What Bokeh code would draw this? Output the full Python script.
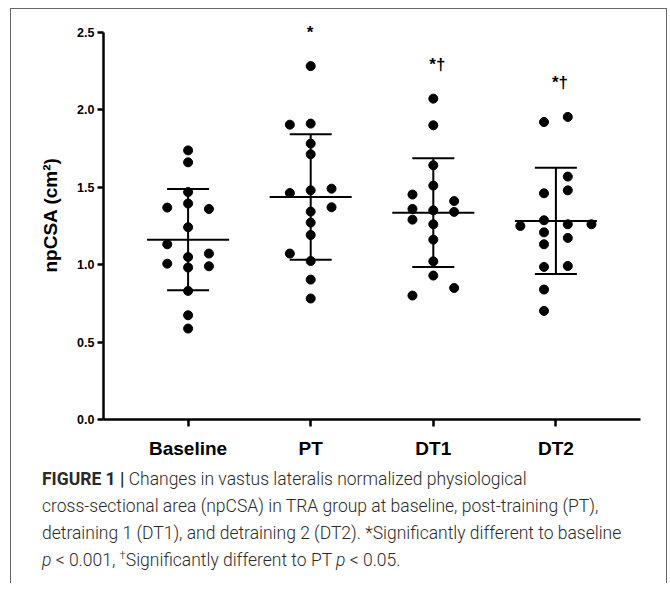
from bokeh.plotting import figure
from bokeh.models import (Range1d, FixedTicker, ColumnDataSource, Div, Whisker,
                          TeeHead, NumeralTickFormatter)
from bokeh.layouts import column
from bokeh.embed import file_html
from bokeh.resources import INLINE
from bokeh.core.properties import value

# ---------------- data ----------------
categories = ["Baseline", "PT", "DT1", "DT2"]

baseline_vals = [1.737, 1.660, 1.468, 1.394, 1.241, 1.049, 0.981, 0.830, 0.673, 0.587,
                 1.368, 1.131, 1.006, 1.359, 1.071, 0.989]
baseline_dx = [0.0] * 10 + [-0.17] * 3 + [0.17] * 3

pt_vals = [2.281, 1.910, 1.781, 1.712, 1.479, 1.342, 1.271, 1.191, 1.023, 0.903, 0.781,
           1.903, 1.462, 1.071, 1.490, 1.370]
pt_dx = [0.0] * 11 + [-0.17] * 3 + [0.17] * 2

dt1_vals = [2.071, 1.899, 1.641, 1.510, 1.350, 1.260, 1.161, 1.021, 0.929,
            1.452, 1.359, 1.290, 0.800, 1.410, 1.340, 0.849]
dt1_dx = [0.0] * 9 + [-0.17] * 4 + [0.17] * 3

dt2_vals = [1.920, 1.460, 1.286, 1.208, 1.131, 0.985, 0.839, 0.701,
            1.953, 1.568, 1.479, 1.260, 1.172, 0.991, 1.249, 1.260]
dt2_dx = [-0.097] * 8 + [0.097] * 6 + [-0.29] + [0.29]

means = [1.161, 1.436, 1.335, 1.282]
sds = [0.327, 0.405, 0.351, 0.343]

sig_labels = ["", "*", "*\u2020", "*\u2020"]

y_ticks = [0.0, 0.5, 1.0, 1.5, 2.0, 2.5]

# ---------------- build sources ----------------
groups = [baseline_vals, pt_vals, dt1_vals, dt2_vals]
offsets = [baseline_dx, pt_dx, dt1_dx, dt2_dx]
px, py = [], []
for i, (vals, dxs) in enumerate(zip(groups, offsets)):
    for v, d in zip(vals, dxs):
        px.append(i + d)
        py.append(v)
pts = ColumnDataSource(dict(x=px, y=py))

idx = list(range(len(categories)))
stats = ColumnDataSource(dict(
    x=idx,
    mean=means,
    upper=[m + s for m, s in zip(means, sds)],
    lower=[m - s for m, s in zip(means, sds)],
))

ann_x = [i for i, s in enumerate(sig_labels) if s]
ann_y = [max(groups[i]) for i in ann_x]
ann_t = [sig_labels[i] for i in ann_x]
ann = ColumnDataSource(dict(x=ann_x, y=ann_y, t=ann_t))

# ---------------- figure ----------------
FONT = "Liberation Sans"
p = figure(output_backend="svg", toolbar_location=None,
           frame_width=537, frame_height=409,
           min_border_left=92, min_border_right=17,
           min_border_top=1, min_border_bottom=41,
           x_range=Range1d(-0.69, 3.69), y_range=Range1d(0, 2.64))
p.outline_line_color = None
p.xgrid.visible = False
p.ygrid.visible = False
p.background_fill_color = "white"
p.border_fill_color = "white"

p.scatter("x", "y", source=pts, size=9, color="black")

p.add_layout(Whisker(source=stats, base="x", upper="upper", lower="lower",
                     line_width=2, line_color="black",
                     upper_head=TeeHead(size=42, line_width=2, line_color="black"),
                     lower_head=TeeHead(size=42, line_width=2, line_color="black")))
p.scatter("x", "mean", source=stats, marker="dash", size=82,
          line_width=2, line_color="black")

p.text("x", "y", text="t", source=ann, x_offset=-4, y_offset=-34,
       text_align="left", text_baseline="middle",
       text_font=value(FONT), text_font_style="bold",
       text_font_size="17px", text_color="black")

# axes
p.xaxis.ticker = FixedTicker(ticks=idx)
p.xaxis.major_label_overrides = {i: c for i, c in enumerate(categories)}
p.yaxis.ticker = FixedTicker(ticks=y_ticks)
p.yaxis.bounds = (y_ticks[0], y_ticks[-1])
p.yaxis.formatter = NumeralTickFormatter(format="0.0")
for ax in (p.xaxis, p.yaxis):
    ax.axis_line_width = 2.5
    ax.axis_line_color = "black"
    ax.major_tick_line_width = 2.5
    ax.major_tick_line_color = "black"
    ax.major_tick_in = 0
    ax.minor_tick_line_color = None
    ax.major_label_text_font = FONT
    ax.major_label_text_font_style = "bold"
    ax.major_label_text_color = "black"
p.xaxis.major_tick_out = 7
p.xaxis.major_label_text_font_size = "19px"
p.xaxis.major_label_standoff = 11
p.yaxis.major_tick_out = 6
p.yaxis.major_label_text_font_size = "12.5px"
p.yaxis.major_label_standoff = 3
p.yaxis.axis_label = "npCSA (cm\u00b2)"
p.yaxis.axis_label_text_font = FONT
p.yaxis.axis_label_text_font_style = "bold"
p.yaxis.axis_label_text_font_size = "19px"
p.yaxis.axis_label_text_color = "black"
p.yaxis.axis_label_standoff = 13

caption_html = (
    "<b style='font-weight:700'>FIGURE 1 |</b> Changes in vastus lateralis normalized physiological<br>"
    "cross-sectional area (npCSA) in TRA group at baseline, post-training (PT),<br>"
    "detraining 1 (DT1), and detraining 2 (DT2). *Significantly different to baseline<br>"
    "<i>p</i> &lt; 0.001, <sup style='line-height:0;font-size:0.65em'>\u2020</sup>"
    "Significantly different to PT <i>p</i> &lt; 0.05."
)
cap = Div(text=caption_html, width=645, height=112,
          styles={"font-family": "Roboto, sans-serif", "font-weight": "300",
                  "font-size": "17.5px", "line-height": "27px", "color": "#2a2a2a",
                  "padding-left": "26px", "white-space": "nowrap"})

layout = column(p, cap, styles={"border-top": "1px solid #666",
                                "border-left": "1px solid #666",
                                "border-right": "1px solid #666",
                                "margin-top": "8px", "margin-left": "10px"})

open("out.html", "w").write(file_html(layout, INLINE))
